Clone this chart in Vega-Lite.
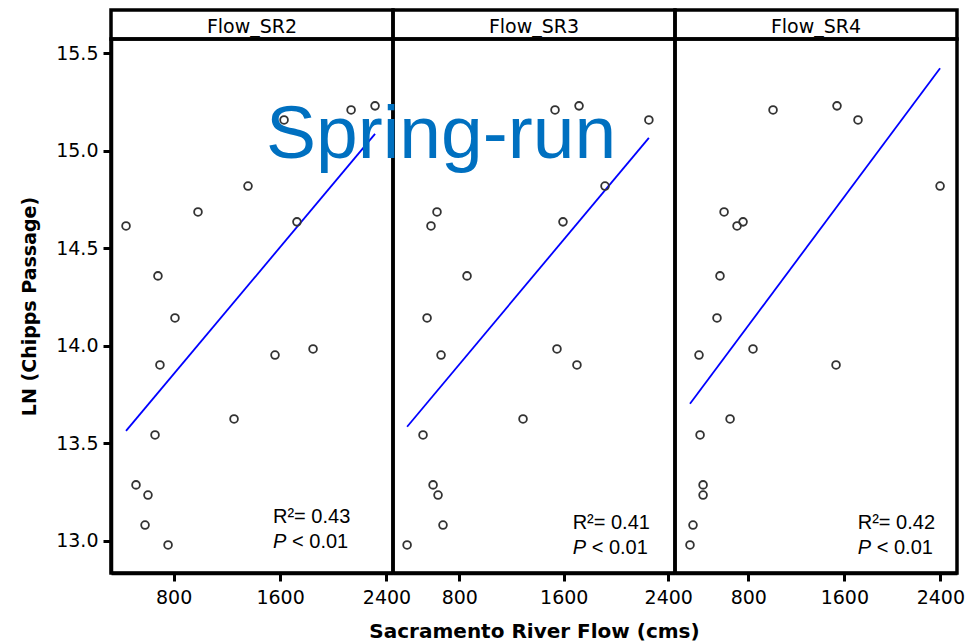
{
  "$schema": "https://vega.github.io/schema/vega-lite/v6.json",
  "padding": {"left": 18, "top": 8, "right": 5, "bottom": 0},
  "background": "white",
  "datasets": {
    "heads": [
      {"panel": "Flow_SR2"}, {"panel": "Flow_SR3"}, {"panel": "Flow_SR4"}
    ],
    "points": [
      {"panel": "Flow_SR2", "flow": 2314, "ln": 15.230},
      {"panel": "Flow_SR2", "flow": 2134, "ln": 15.209},
      {"panel": "Flow_SR2", "flow": 1630, "ln": 15.158},
      {"panel": "Flow_SR2", "flow": 1359, "ln": 14.819},
      {"panel": "Flow_SR2", "flow": 983, "ln": 14.686},
      {"panel": "Flow_SR2", "flow": 1727, "ln": 14.635},
      {"panel": "Flow_SR2", "flow": 442, "ln": 14.614},
      {"panel": "Flow_SR2", "flow": 682, "ln": 14.358},
      {"panel": "Flow_SR2", "flow": 810, "ln": 14.142},
      {"panel": "Flow_SR2", "flow": 1848, "ln": 13.983},
      {"panel": "Flow_SR2", "flow": 1562, "ln": 13.952},
      {"panel": "Flow_SR2", "flow": 697, "ln": 13.901},
      {"panel": "Flow_SR2", "flow": 1254, "ln": 13.624},
      {"panel": "Flow_SR2", "flow": 660, "ln": 13.542},
      {"panel": "Flow_SR2", "flow": 517, "ln": 13.286},
      {"panel": "Flow_SR2", "flow": 607, "ln": 13.234},
      {"panel": "Flow_SR2", "flow": 585, "ln": 13.080},
      {"panel": "Flow_SR2", "flow": 758, "ln": 12.978},
      {"panel": "Flow_SR3", "flow": 1717, "ln": 15.230},
      {"panel": "Flow_SR3", "flow": 1533, "ln": 15.209},
      {"panel": "Flow_SR3", "flow": 2252, "ln": 15.158},
      {"panel": "Flow_SR3", "flow": 1916, "ln": 14.819},
      {"panel": "Flow_SR3", "flow": 629, "ln": 14.686},
      {"panel": "Flow_SR3", "flow": 1594, "ln": 14.635},
      {"panel": "Flow_SR3", "flow": 583, "ln": 14.614},
      {"panel": "Flow_SR3", "flow": 859, "ln": 14.358},
      {"panel": "Flow_SR3", "flow": 553, "ln": 14.142},
      {"panel": "Flow_SR3", "flow": 1548, "ln": 13.983},
      {"panel": "Flow_SR3", "flow": 660, "ln": 13.952},
      {"panel": "Flow_SR3", "flow": 1701, "ln": 13.901},
      {"panel": "Flow_SR3", "flow": 1288, "ln": 13.624},
      {"panel": "Flow_SR3", "flow": 522, "ln": 13.542},
      {"panel": "Flow_SR3", "flow": 599, "ln": 13.286},
      {"panel": "Flow_SR3", "flow": 637, "ln": 13.234},
      {"panel": "Flow_SR3", "flow": 675, "ln": 13.080},
      {"panel": "Flow_SR3", "flow": 400, "ln": 12.978},
      {"panel": "Flow_SR4", "flow": 1539, "ln": 15.230},
      {"panel": "Flow_SR4", "flow": 1006, "ln": 15.209},
      {"panel": "Flow_SR4", "flow": 1714, "ln": 15.158},
      {"panel": "Flow_SR4", "flow": 2398, "ln": 14.819},
      {"panel": "Flow_SR4", "flow": 598, "ln": 14.686},
      {"panel": "Flow_SR4", "flow": 756, "ln": 14.635},
      {"panel": "Flow_SR4", "flow": 706, "ln": 14.614},
      {"panel": "Flow_SR4", "flow": 564, "ln": 14.358},
      {"panel": "Flow_SR4", "flow": 539, "ln": 14.142},
      {"panel": "Flow_SR4", "flow": 839, "ln": 13.983},
      {"panel": "Flow_SR4", "flow": 389, "ln": 13.952},
      {"panel": "Flow_SR4", "flow": 1531, "ln": 13.901},
      {"panel": "Flow_SR4", "flow": 648, "ln": 13.624},
      {"panel": "Flow_SR4", "flow": 398, "ln": 13.542},
      {"panel": "Flow_SR4", "flow": 423, "ln": 13.286},
      {"panel": "Flow_SR4", "flow": 423, "ln": 13.234},
      {"panel": "Flow_SR4", "flow": 339, "ln": 13.080},
      {"panel": "Flow_SR4", "flow": 314, "ln": 12.978}
    ],
    "fit": [
      {"panel": "Flow_SR2", "flow": 442, "ln": 13.563},
      {"panel": "Flow_SR2", "flow": 2314, "ln": 15.086},
      {"panel": "Flow_SR3", "flow": 400, "ln": 13.584},
      {"panel": "Flow_SR3", "flow": 2252, "ln": 15.066},
      {"panel": "Flow_SR4", "flow": 314, "ln": 13.702},
      {"panel": "Flow_SR4", "flow": 2398, "ln": 15.423}
    ],
    "notes": [
      {"panel": "Flow_SR2", "kind": "r2", "flow": 1547, "ln": 13.089, "text": "R²= 0.43"},
      {"panel": "Flow_SR2", "kind": "p", "flow": 1547, "ln": 12.961, "text": "P"},
      {"panel": "Flow_SR2", "kind": "lt", "flow": 1547, "ln": 12.961, "text": "< 0.01"},
      {"panel": "Flow_SR3", "kind": "r2", "flow": 1668, "ln": 13.060, "text": "R²= 0.41"},
      {"panel": "Flow_SR3", "kind": "p", "flow": 1668, "ln": 12.930, "text": "P"},
      {"panel": "Flow_SR3", "kind": "lt", "flow": 1668, "ln": 12.930, "text": "< 0.01"},
      {"panel": "Flow_SR4", "kind": "r2", "flow": 1712, "ln": 13.060, "text": "R²= 0.42"},
      {"panel": "Flow_SR4", "kind": "p", "flow": 1712, "ln": 12.930, "text": "P"},
      {"panel": "Flow_SR4", "kind": "lt", "flow": 1712, "ln": 12.930, "text": "< 0.01"},
      {"panel": "Flow_SR3", "kind": "banner", "flow": 660, "ln": 14.963, "text": "Spring-run"}
    ]
  },
  "columns": 3,
  "spacing": 0,
  "bounds": "flush",
  "concat": [
    {
      "data": {"name": "heads"},
      "transform": [{"filter": "datum.panel === 'Flow_SR2'"}],
      "width": 282, "height": 29,
      "mark": {"type": "text", "font": "DejaVu Sans", "fontSize": 19, "baseline": "alphabetic", "dy": 8.5, "color": "black"},
      "encoding": {
        "x": {"field": "panel", "type": "nominal", "axis": null},
        "y": {"field": "panel", "type": "nominal", "axis": null},
        "text": {"field": "panel"}
      }
    },
    {
      "data": {"name": "heads"},
      "transform": [{"filter": "datum.panel === 'Flow_SR3'"}],
      "width": 282, "height": 29,
      "mark": {"type": "text", "font": "DejaVu Sans", "fontSize": 19, "baseline": "alphabetic", "dy": 8.5, "color": "black"},
      "encoding": {
        "x": {"field": "panel", "type": "nominal", "axis": null},
        "y": {"field": "panel", "type": "nominal", "axis": null},
        "text": {"field": "panel"}
      }
    },
    {
      "data": {"name": "heads"},
      "transform": [{"filter": "datum.panel === 'Flow_SR4'"}],
      "width": 282, "height": 29,
      "mark": {"type": "text", "font": "DejaVu Sans", "fontSize": 19, "baseline": "alphabetic", "dy": 8.5, "color": "black"},
      "encoding": {
        "x": {"field": "panel", "type": "nominal", "axis": null},
        "y": {"field": "panel", "type": "nominal", "axis": null},
        "text": {"field": "panel"}
      }
    },
    {
      "width": 282, "height": 534,
      "encoding": {
        "x": {"field": "flow", "type": "quantitative", "scale": {"domain": [329, 2449], "nice": false, "zero": false}, "axis": {"values": [800, 1600, 2400], "format": "d", "title": null}},
        "y": {"field": "ln", "type": "quantitative", "scale": {"domain": [12.834, 15.573], "nice": false, "zero": false}, "axis": {"values": [13, 13.5, 14, 14.5, 15, 15.5], "format": ".1f", "title": "LN (Chipps Passage)"}}
      },
      "layer": [
        {"data": {"name": "fit"}, "transform": [{"filter": "datum.panel === 'Flow_SR2'"}], "mark": {"type": "line", "color": "#0000FF", "strokeWidth": 1.8}},
        {"data": {"name": "points"}, "transform": [{"filter": "datum.panel === 'Flow_SR2'"}], "mark": {"type": "point", "filled": false, "stroke": "#333333", "strokeWidth": 1.8, "size": 60, "opacity": 1}},
        {"data": {"name": "notes"}, "transform": [{"filter": "datum.panel === 'Flow_SR2' && datum.kind === 'r2'"}], "mark": {"type": "text", "font": "Liberation Sans", "fontSize": 20, "align": "left", "baseline": "alphabetic", "color": "black"}, "encoding": {"text": {"field": "text"}}},
        {"data": {"name": "notes"}, "transform": [{"filter": "datum.panel === 'Flow_SR2' && datum.kind === 'p'"}], "mark": {"type": "text", "font": "Liberation Sans", "fontSize": 20, "fontStyle": "italic", "align": "left", "baseline": "alphabetic", "color": "black"}, "encoding": {"text": {"field": "text"}}},
        {"data": {"name": "notes"}, "transform": [{"filter": "datum.panel === 'Flow_SR2' && datum.kind === 'lt'"}], "mark": {"type": "text", "font": "Liberation Sans", "fontSize": 20, "align": "left", "baseline": "alphabetic", "dx": 19, "color": "black"}, "encoding": {"text": {"field": "text"}}}
      ]
    },
    {
      "width": 282, "height": 534,
      "encoding": {
        "x": {"field": "flow", "type": "quantitative", "scale": {"domain": [292, 2452], "nice": false, "zero": false}, "axis": {"values": [800, 1600, 2400], "format": "d", "title": "Sacramento River Flow (cms)"}},
        "y": {"field": "ln", "type": "quantitative", "scale": {"domain": [12.834, 15.573], "nice": false, "zero": false}, "axis": null}
      },
      "layer": [
        {"data": {"name": "fit"}, "transform": [{"filter": "datum.panel === 'Flow_SR3'"}], "mark": {"type": "line", "color": "#0000FF", "strokeWidth": 1.8}},
        {"data": {"name": "points"}, "transform": [{"filter": "datum.panel === 'Flow_SR3'"}], "mark": {"type": "point", "filled": false, "stroke": "#333333", "strokeWidth": 1.8, "size": 60, "opacity": 1}},
        {"data": {"name": "notes"}, "transform": [{"filter": "datum.panel === 'Flow_SR3' && datum.kind === 'r2'"}], "mark": {"type": "text", "font": "Liberation Sans", "fontSize": 20, "align": "left", "baseline": "alphabetic", "color": "black"}, "encoding": {"text": {"field": "text"}}},
        {"data": {"name": "notes"}, "transform": [{"filter": "datum.panel === 'Flow_SR3' && datum.kind === 'p'"}], "mark": {"type": "text", "font": "Liberation Sans", "fontSize": 20, "fontStyle": "italic", "align": "left", "baseline": "alphabetic", "color": "black"}, "encoding": {"text": {"field": "text"}}},
        {"data": {"name": "notes"}, "transform": [{"filter": "datum.panel === 'Flow_SR3' && datum.kind === 'lt'"}], "mark": {"type": "text", "font": "Liberation Sans", "fontSize": 20, "align": "left", "baseline": "alphabetic", "dx": 19, "color": "black"}, "encoding": {"text": {"field": "text"}}},
        {"data": {"name": "notes"}, "transform": [{"filter": "datum.kind === 'banner'"}], "mark": {"type": "text", "font": "Liberation Sans", "fontSize": 75, "align": "center", "baseline": "alphabetic", "color": "#0070C0"}, "encoding": {"text": {"field": "text"}}}
      ]
    },
    {
      "width": 282, "height": 534,
      "encoding": {
        "x": {"field": "flow", "type": "quantitative", "scale": {"domain": [189, 2539], "nice": false, "zero": false}, "axis": {"values": [800, 1600, 2400], "format": "d", "title": null}},
        "y": {"field": "ln", "type": "quantitative", "scale": {"domain": [12.834, 15.573], "nice": false, "zero": false}, "axis": null}
      },
      "layer": [
        {"data": {"name": "fit"}, "transform": [{"filter": "datum.panel === 'Flow_SR4'"}], "mark": {"type": "line", "color": "#0000FF", "strokeWidth": 1.8}},
        {"data": {"name": "points"}, "transform": [{"filter": "datum.panel === 'Flow_SR4'"}], "mark": {"type": "point", "filled": false, "stroke": "#333333", "strokeWidth": 1.8, "size": 60, "opacity": 1}},
        {"data": {"name": "notes"}, "transform": [{"filter": "datum.panel === 'Flow_SR4' && datum.kind === 'r2'"}], "mark": {"type": "text", "font": "Liberation Sans", "fontSize": 20, "align": "left", "baseline": "alphabetic", "color": "black"}, "encoding": {"text": {"field": "text"}}},
        {"data": {"name": "notes"}, "transform": [{"filter": "datum.panel === 'Flow_SR4' && datum.kind === 'p'"}], "mark": {"type": "text", "font": "Liberation Sans", "fontSize": 20, "fontStyle": "italic", "align": "left", "baseline": "alphabetic", "color": "black"}, "encoding": {"text": {"field": "text"}}},
        {"data": {"name": "notes"}, "transform": [{"filter": "datum.panel === 'Flow_SR4' && datum.kind === 'lt'"}], "mark": {"type": "text", "font": "Liberation Sans", "fontSize": 20, "align": "left", "baseline": "alphabetic", "dx": 19, "color": "black"}, "encoding": {"text": {"field": "text"}}}
      ]
    }
  ],
  "config": {
    "view": {"stroke": "black", "strokeWidth": 3.5},
    "axis": {"grid": false, "domainColor": "black", "domainWidth": 3.5, "tickColor": "black", "tickWidth": 3, "tickSize": 8, "labelFont": "DejaVu Sans", "labelFontSize": 19, "labelColor": "black", "labelFlush": false, "labelOverlap": false, "labelBound": false, "titleFont": "DejaVu Sans", "titleFontSize": 20, "titleFontWeight": "bold", "titleColor": "black"},
    "axisX": {"labelPadding": 7, "titlePadding": 14},
    "axisY": {"labelPadding": 5, "titlePadding": 16, "titleFontSize": 19}
  }
}
